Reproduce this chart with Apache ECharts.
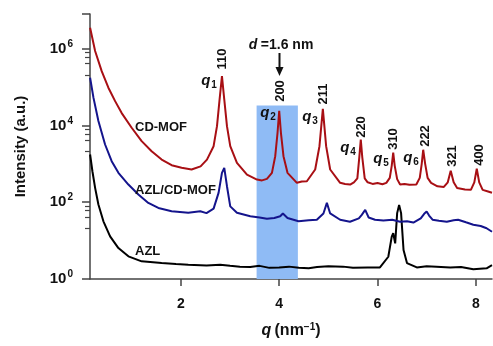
<!DOCTYPE html>
<html>
<head>
<meta charset="utf-8">
<script src="https://cdn.jsdelivr.net/npm/echarts@6/dist/echarts.min.js"></script>
<style>
  html, body { margin: 0; padding: 0; background: #fff; }
  #chart { width: 493px; height: 346px; }
</style>
</head>
<body>
<div id="chart"></div>
<script>
// scattering vector q (nm^-1) and intensity (a.u.)
const qRed = [0.152, 0.254, 0.388, 0.524, 0.661, 0.795, 0.998, 1.201, 1.404, 1.608, 1.811, 2.014, 2.217, 2.40,
  2.53, 2.665, 2.734, 2.787, 2.835, 2.882, 2.937, 3.004, 3.140, 3.344, 3.547, 3.650, 3.750, 3.852,
  3.919, 3.966, 4.000, 4.035, 4.087, 4.169, 4.360, 4.460, 4.563, 4.732, 4.819, 4.888, 4.955, 5.037,
  5.240, 5.340, 5.443, 5.52, 5.59, 5.63, 5.66, 5.69, 5.74, 5.80, 5.90, 6.00, 6.10, 6.18, 6.25,
  6.29, 6.32, 6.35, 6.40, 6.46, 6.55, 6.65, 6.79, 6.86, 6.90, 6.93, 6.97, 7.02, 7.09, 7.22,
  7.35, 7.43, 7.49, 7.55, 7.62, 7.70, 7.78, 7.90, 7.97, 8.02, 8.07, 8.14, 8.25, 8.33];
const iRed = [3.5e6, 8.7e5, 2.6e5, 9.6e4, 4.3e4, 2.1e4, 8700, 3900, 2130, 1290, 920, 787, 711, 860,
  1290, 2880, 9570, 4.75e4, 1.93e5, 4.75e4, 9570, 2880, 1060, 526, 390, 370, 406, 582,
  1580, 6440, 2.4e4, 6440, 1580, 582, 320, 345, 352, 711, 2880, 2.7e4, 2880, 711,
  320, 300, 289, 330, 420, 1500, 4300, 1500, 420, 330, 300, 315, 295, 320, 430,
  900, 1950, 900, 400, 290, 300, 285, 290, 430, 1000, 2330, 1000, 430, 320, 260,
  250, 330, 660, 330, 235, 225, 215, 210, 330, 745, 330, 210, 190, 176];

const qBlue = [0.152, 0.220, 0.321, 0.457, 0.591, 0.728, 0.931, 1.134, 1.337, 1.541, 1.811, 2.150, 2.394, 2.52,
  2.665, 2.766, 2.835, 2.882, 2.937, 3.004, 3.140, 3.411, 3.60, 3.750, 3.90, 4.020, 4.075, 4.169,
  4.394, 4.60, 4.766, 4.900, 4.970, 5.037, 5.240, 5.44, 5.62, 5.68, 5.75, 5.82, 5.95, 6.12,
  6.30, 6.46, 6.60, 6.73, 6.88, 6.95, 7.00, 7.05, 7.12, 7.25, 7.41, 7.55, 7.64, 7.80, 7.95, 8.10, 8.22, 8.33];
const iBlue = [1.75e5, 5.3e4, 1.3e4, 3190, 1170, 582, 289, 159, 96, 71, 58, 53, 58, 52,
  68, 175, 582, 787, 261, 78, 53, 43, 40, 37, 39, 43, 51, 39,
  32, 34, 35, 51, 96, 51, 35, 31, 38, 47, 63, 40, 35, 33.5,
  35, 31, 32, 29.5, 38, 50, 57, 45, 35, 33, 31, 34, 35, 30, 26, 24, 21, 17];

const qBlack = [0.152, 0.199, 0.254, 0.321, 0.423, 0.559, 0.728, 0.931, 1.201, 1.608, 1.90, 2.150, 2.522, 2.80,
  3.00, 3.20, 3.41, 3.60, 3.80, 4.00, 4.20, 4.40, 4.60, 4.77, 5.00, 5.30, 5.50, 5.80, 6.05,
  6.22, 6.29, 6.32, 6.36, 6.40, 6.44, 6.48, 6.53, 6.60, 6.80, 7.00, 7.20, 7.48, 7.70, 7.95, 8.22, 8.33];
const iBlack = [1750, 641, 237, 87, 31.8, 12.9, 6.4, 3.9, 2.88, 2.61, 2.45, 2.36, 2.26, 2.35,
  2.2, 2.1, 2.05, 2.2, 1.95, 2.0, 2.1, 1.95, 1.9, 2.05, 2.15, 2.1, 1.95, 2.0, 2.0,
  3.8, 12.7, 15.6, 8.5, 52, 85, 52, 5.7, 2.6, 2.0, 2.15, 2.1, 2.0, 2.05, 1.8, 1.9, 2.3];

const xTicks = [2, 4, 6, 8];
const shadeRange = [3.54, 4.38];   // highlighted q band
const shadeTop = 3.3e4;

const FONT = '"Liberation Sans", Arial, sans-serif';

const zip = (xs, ys) => xs.map((x, i) => [x, ys[i]]);

const chart = echarts.init(document.getElementById('chart'));

// annotation text on the plot
const mkText = (text, x, y, extra) => ({
  type: 'text', x: x, y: y, z: 20,
  style: Object.assign({
    text: text, fill: '#111', font: 'bold 13px ' + FONT,
    align: 'center', verticalAlign: 'middle'
  }, extra || {})
});
const millerRot = (text, x, y) => {
  const t = mkText(text, x, y);
  t.rotation = Math.PI / 2;
  return t;
};
const qRich = {
  q: { fontFamily: FONT, fontWeight: 'bold', fontStyle: 'italic', fontSize: 15, fill: '#111' },
  s: { fontFamily: FONT, fontWeight: 'bold', fontSize: 10, fill: '#111', padding: [9, 0, 0, 1] }
};
const qLabel = (n, x, y) => mkText('{q|q}{s|' + n + '}', x, y, { rich: qRich });

chart.setOption({
  animation: false,
  grid: { left: 90, right: 1, top: 14, bottom: 67 },
  xAxis: {
    type: 'value',
    min: 0.15,
    max: 8.33,
    name: '{i|q} {n|(nm}{s|−1}{n|)}',
    nameLocation: 'middle',
    nameGap: 43,
    nameTextStyle: {
      rich: {
        i: { fontFamily: FONT, fontWeight: 'bold', fontStyle: 'italic', fontSize: 16, color: '#111' },
        n: { fontFamily: FONT, fontWeight: 'bold', fontSize: 16, color: '#111' },
        s: { fontFamily: FONT, fontWeight: 'bold', fontSize: 10, color: '#111', padding: [0, 0, 8, 0] }
      }
    },
    axisLine: { lineStyle: { color: '#444', width: 1.5 } },
    axisTick: { show: true, length: 7, customValues: xTicks, lineStyle: { color: '#444', width: 1.5 } },
    axisLabel: {
      customValues: xTicks, margin: 18,
      fontFamily: FONT, fontWeight: 'bold', fontSize: 14, color: '#111'
    },
    splitLine: { show: false }
  },
  yAxis: {
    type: 'log',
    logBase: 10,
    min: 1,
    max: 8e6,
    interval: 2,
    name: 'Intensity (a.u.)',
    nameLocation: 'middle',
    nameGap: 62,
    nameTextStyle: { fontFamily: FONT, fontWeight: 'bold', fontSize: 15, color: '#111' },
    axisLine: { show: true, lineStyle: { color: '#444', width: 1.5 } },
    axisTick: { show: true, length: 8, lineStyle: { color: '#444', width: 1.5 } },
    minorTick: { show: true, splitNumber: 5, length: 5, lineStyle: { color: '#444', width: 1.2 } },
    axisLabel: {
      margin: 17,
      formatter: v => {
        const lg = Math.log10(v);
        const e = Math.round(lg);
        if (Math.abs(lg - e) > 0.01 || e % 2 !== 0 || e > 6) return '';
        return '{b|10}{s|' + e + '}';
      },
      rich: {
        b: { fontFamily: FONT, fontWeight: 'bold', fontSize: 15, color: '#111' },
        s: { fontFamily: FONT, fontWeight: 'bold', fontSize: 10, color: '#111', padding: [0, 0, 9, 1] }
      }
    },
    splitLine: { show: false }
  },
  series: [
    {
      type: 'line', data: [], silent: true,
      markArea: {
        silent: true,
        itemStyle: { color: '#8fbbf5', opacity: 1 },
        data: [[{ coord: [shadeRange[0], 1] }, { coord: [shadeRange[1], shadeTop] }]]
      }
    },
    {
      name: 'AZL', type: 'line', data: zip(qBlack, iBlack), showSymbol: false,
      lineStyle: { color: '#000', width: 2 }
    },
    {
      name: 'AZL/CD-MOF', type: 'line', data: zip(qBlue, iBlue), showSymbol: false,
      lineStyle: { color: '#14148c', width: 2 }
    },
    {
      name: 'CD-MOF', type: 'line', data: zip(qRed, iRed), showSymbol: false,
      lineStyle: { color: '#a80f14', width: 2 }
    }
  ],
  graphic: [
    mkText('CD-MOF', 135, 127, { align: 'left' }),
    mkText('AZL/CD-MOF', 135, 190, { align: 'left' }),
    mkText('AZL', 135, 251, { align: 'left' }),
    millerRot('110', 222, 59),
    millerRot('200', 280, 91),
    millerRot('211', 323, 94),
    millerRot('220', 361, 127),
    millerRot('310', 393, 139),
    millerRot('222', 425, 136),
    millerRot('321', 452, 156),
    millerRot('400', 479, 155),
    qLabel(1, 209, 81),
    qLabel(2, 268, 113),
    qLabel(3, 310, 117),
    qLabel(4, 348, 148),
    qLabel(5, 381, 159),
    qLabel(6, 411, 158),
    mkText('{d|d} {n|=1.6 nm}', 281, 45, {
      rich: {
        d: { fontFamily: FONT, fontWeight: 'bold', fontStyle: 'italic', fontSize: 14, fill: '#111' },
        n: { fontFamily: FONT, fontWeight: 'bold', fontSize: 14, fill: '#111' }
      }
    }),
    {
      type: 'line', z: 20,
      shape: { x1: 279.5, y1: 53, x2: 279.5, y2: 69 },
      style: { stroke: '#111', lineWidth: 2 }
    },
    {
      type: 'polygon', z: 20,
      shape: { points: [[275.5, 67], [283.5, 67], [279.5, 76]] },
      style: { fill: '#111' }
    }
  ]
});
</script>
</body>
</html>
